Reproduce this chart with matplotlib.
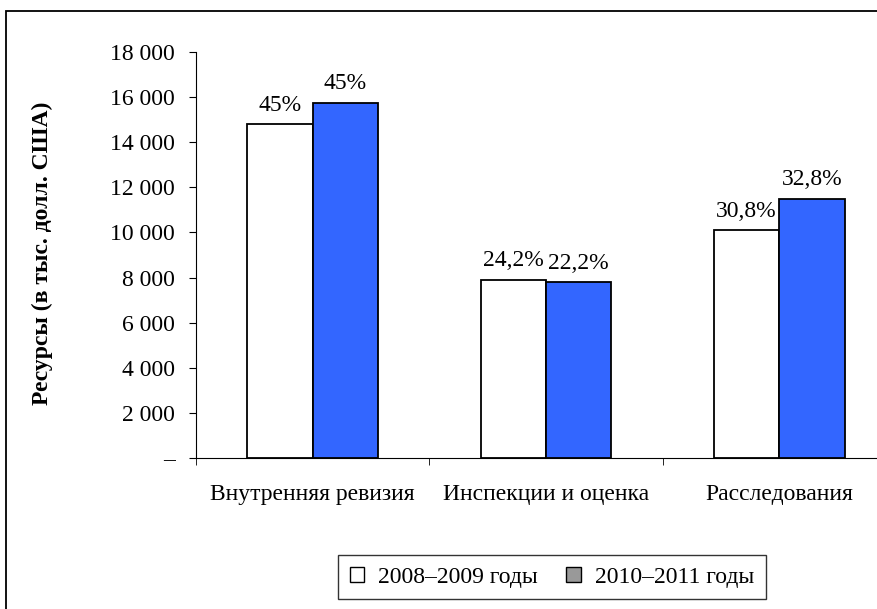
import numpy as np
import matplotlib.pyplot as plt
from matplotlib.patches import Patch, Rectangle
from matplotlib.ticker import FuncFormatter

plt.rcParams['font.family'] = ['Liberation Serif', 'DejaVu Serif']

# data
categories = ["Внутренняя ревизия", "Инспекции и оценка", "Расследования"]
series_names = ["2008–2009 годы", "2010–2011 годы"]
values_2008 = [14800, 7900, 10100]
values_2010 = [15750, 7800, 11500]
labels_2008 = ["45%", "24,2%", "30,8%"]
labels_2010 = ["45%", "22,2%", "32,8%"]
y_ticks = list(range(0, 18001, 2000))

fig = plt.figure(figsize=(8.77, 6.09), dpi=100)
ax = fig.add_axes([196 / 877, 1 - 458 / 609, 700 / 877, 406 / 609])

x = np.arange(len(categories))
w = 0.28
b1 = ax.bar(x - w / 2, values_2008, w, color='white', edgecolor='black', linewidth=1.3)
b2 = ax.bar(x + w / 2, values_2010, w, color='#3366ff', edgecolor='black', linewidth=1.3)

fs = 17
for bars, labs in ((b1, labels_2008), (b2, labels_2010)):
    for r, lab in zip(bars, labs):
        ax.annotate(lab, (r.get_x() + r.get_width() / 2, r.get_height()),
                    xytext=(0, 6), textcoords='offset points',
                    ha='center', va='bottom', fontsize=fs)

ax.set_xlim(-0.5, len(categories) - 0.5)
ax.set_ylim(0, 18000)
ax.set_yticks(y_ticks)
ax.yaxis.set_major_formatter(FuncFormatter(
    lambda v, p: "–" if v == 0 else f"{int(v):,}".replace(",", " ")))
ax.set_xticks(x)
ax.set_xticklabels(categories)
ax.set_xticks(np.arange(-0.5, len(categories), 1.0), minor=True)
ax.tick_params(axis='x', which='major', length=0, pad=19, labelsize=fs)
ax.tick_params(axis='x', which='minor', length=5, direction='out')
ax.tick_params(axis='y', length=5, direction='out', pad=10, labelsize=fs)

for s in ('top', 'right'):
    ax.spines[s].set_visible(False)

fig.text(42 / 877, 1 - 253 / 609, "Ресурсы (в тыс. долл. США)", rotation=90,
         ha='center', va='center', fontsize=fs, fontweight='bold')

handles = [Patch(facecolor='white', edgecolor='black'),
           Patch(facecolor='#999999', edgecolor='black')]
leg = fig.legend(handles, series_names, loc='center', bbox_to_anchor=(552 / 877, 1 - 577 / 609),
                 ncol=2, fontsize=fs, frameon=True, fancybox=False, handlelength=0.6,
                 handleheight=0.6, handletextpad=0.6, columnspacing=1.2, borderpad=0.5)
leg.get_frame().set_edgecolor('black')
leg.get_frame().set_linewidth(1.0)

# outer border
fig.add_artist(Rectangle((6 / 877, -0.1), 1.2, 1 - 11 / 609 + 0.1, transform=fig.transFigure,
                         fill=False, edgecolor='black', linewidth=1.3))

fig.savefig("out.png", dpi=100)
